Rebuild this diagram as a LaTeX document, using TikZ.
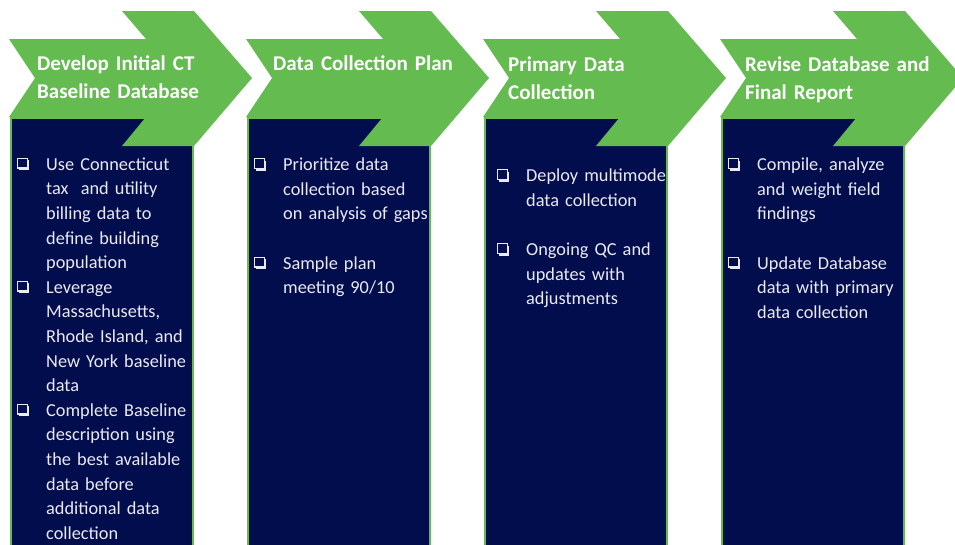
\documentclass[tikz,border=0pt]{standalone}
\usepackage{fontspec}
\setmainfont{Carlito}
\definecolor{chgreen}{RGB}{100,187,80}
\definecolor{panelnavy}{RGB}{2,13,77}
\definecolor{paneltext}{RGB}{234,234,244}
\tikzset{
  chevron/.style={fill=chgreen, draw=none},
  panel/.style={fill=panelnavy, draw=chgreen, line width=2pt},
  headtxt/.style={anchor=north west, inner sep=0pt, text=white, text width=210pt, align=left,
    font=\bfseries\fontsize{21}{28.5}\selectfont},
  itemtxt/.style={anchor=north west, inner sep=0pt, text=paneltext, text width=160pt, align=left,
    font=\fontsize{18.3}{24.6}\selectfont},
  boxline/.style={draw=paneltext, line width=1.2pt},
  boxshade/.style={fill=paneltext},
}
% chevron with left edge at x0
\newcommand{\chevdraw}[1]{%
  \fill[chevron] (#1,39) -- (#1+137,39) -- (#1+113,11) -- (#1+185,11) -- (#1+243,78)
    -- (#1+185,146) -- (#1+113,146) -- (#1+137,117) -- (#1,117) -- (#1+26,78) -- cycle;}
\newcommand{\paneldraw}[1]{%
  \draw[panel] (#1+2,118) rectangle (#1+184,560);}
% checkbox bullet: x, baseline
\newcommand{\chkbox}[2]{%
  \draw[boxline] (#1+0.6,#2-11.8) rectangle (#1+10.4,#2-2);
  \fill[boxshade] (#1+2,#2-2) rectangle (#1+12.4,#2+0.3);
  \fill[boxshade] (#1+10.4,#2-9.8) rectangle (#1+12.4,#2+0.3);}
\begin{document}
\begin{tikzpicture}[x=1pt,y=-1pt]
\useasboundingbox (0,0) rectangle (955,544);
\clip (0,0) rectangle (955,544);
\fill[white] (0,0) rectangle (955,544);

% panels
\paneldraw{9}
\paneldraw{246}
\paneldraw{483}
\paneldraw{720}

% chevrons
\chevdraw{9}
\chevdraw{246}
\chevdraw{483}
\chevdraw{720}

% headers
\node[headtxt] (h1) at (37,50.1) {\strut Develop Initial CT\\Baseline Database};
\node[headtxt] (h2) at (273,50.6) {\strut Data Collection Plan};
\node[headtxt] (h3) at (508,51.1) {\strut Primary Data\\Collection};
\node[headtxt] (h4) at (745,51.1) {\strut Revise Database and\\Final Report};

% column 1
\chkbox{17}{170}
\node[itemtxt] (c1a) at (46,152.8) {\strut Use Connecticut\\tax~ and utility\\billing data to\\define building\\population};
\chkbox{17}{293}
\node[itemtxt] (c1b) at (46,275.8) {\strut Leverage\\Massachusetts,\\Rhode Island, and\\New York baseline\\data};
\chkbox{17}{416}
\node[itemtxt] (c1c) at (46,398.8) {\strut Complete Baseline\\description using\\the best available\\data before\\additional data\\collection};

% column 2
\chkbox{254}{170.5}
\node[itemtxt] (c2a) at (283,153.3) {\strut Prioritize data\\collection based\\on analysis of gaps};
\chkbox{254}{268.9}
\node[itemtxt] (c2b) at (283,251.7) {\strut Sample plan\\meeting 90/10};

% column 3
\chkbox{497}{181.5}
\node[itemtxt] (c3a) at (526,164.3) {\strut Deploy multimode\\data collection};
\chkbox{497}{255.3}
\node[itemtxt] (c3b) at (526,238.1) {\strut Ongoing QC and\\updates with\\adjustments};

% column 4
\chkbox{728}{170.5}
\node[itemtxt] (c4a) at (757,153.3) {\strut Compile, analyze\\and weight field\\findings};
\chkbox{728}{268.9}
\node[itemtxt] (c4b) at (757,251.7) {\strut Update Database\\data with primary\\data collection};
\end{tikzpicture}
\end{document}
